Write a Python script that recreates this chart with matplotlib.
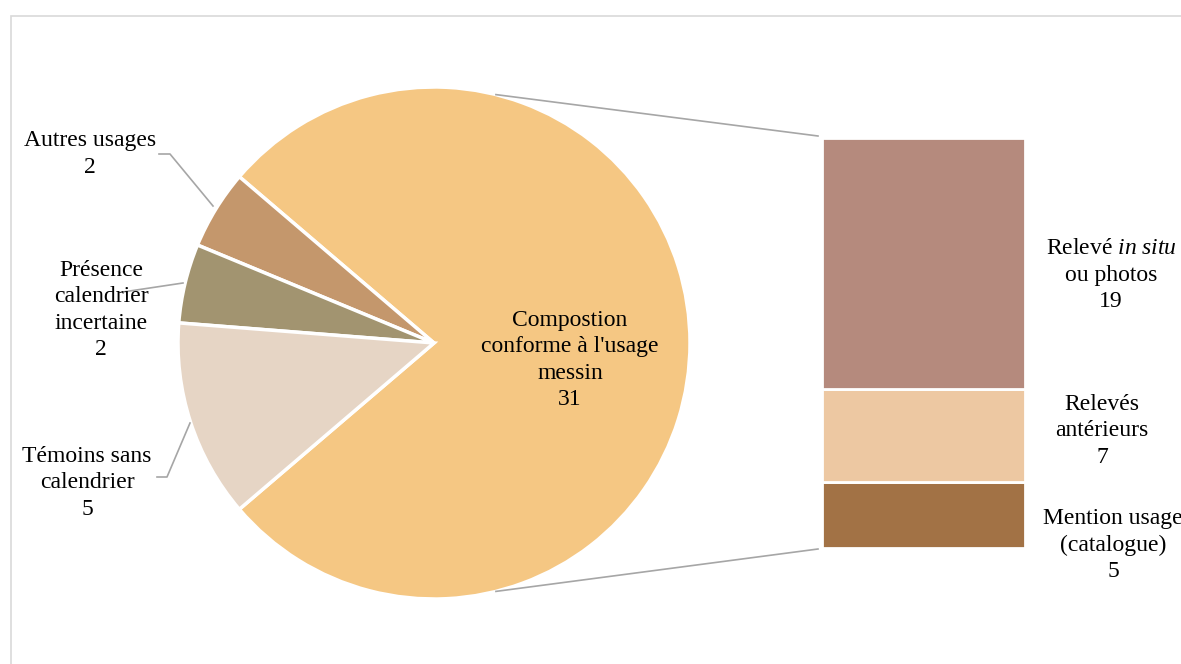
import numpy as np
import matplotlib.pyplot as plt
from matplotlib.patches import Rectangle

plt.rcParams['font.family'] = ['Liberation Serif', 'DejaVu Serif']
plt.rcParams['mathtext.fontset'] = 'custom'
plt.rcParams['mathtext.rm'] = 'Liberation Serif'
plt.rcParams['mathtext.it'] = 'Liberation Serif:italic'

# pie data
pie_labels = ["Compostion\nconforme à l'usage\nmessin", "Autres usages",
              "Présence\ncalendrier\nincertaine", "Témoins sans\ncalendrier"]
pie_values = [31, 2, 2, 5]
pie_colors = ['#F5C783', '#C4976C', '#A29470', '#E6D5C5']

# bar data (breakdown of the 31), bottom to top
bar_labels = ["Mention usage\n(catalogue)", "Relevés\nantérieurs", "Relevé $\\mathit{in\\ situ}$\nou photos"]
bar_values = [5, 7, 19]
bar_colors = ['#A27245', '#EDC8A2', '#B58A7D']

W, H = 1181, 664
fig = plt.figure(figsize=(W / 100, H / 100), dpi=100)
ax = fig.add_axes([0, 0, 1, 1])

# frame around the chart area (right and bottom edges fall outside the image)
fig.patches.append(Rectangle((10.5 / W, -0.5), 2, 1.5 - 15.5 / H, transform=fig.transFigure,
                             fill=False, edgecolor='#D9D9D9', linewidth=1.2))

cx, cy, r = 434, H - 343, 256
start = -pie_values[0] / sum(pie_values) * 180
ax.pie(pie_values, colors=pie_colors, startangle=start, counterclock=True,
       radius=r, center=(cx, cy), wedgeprops=dict(edgecolor='white', linewidth=2.5))

# stacked bar
bx, bw = 923.5, 203
bar_bottom = H - 548
scale = (548 - 138) / sum(bar_values)
bottoms = np.concatenate([[0], np.cumsum(bar_values)[:-1]])
ax.bar([bx] * len(bar_values), [v * scale for v in bar_values], width=bw,
       bottom=[bar_bottom + b * scale for b in bottoms], color=bar_colors,
       edgecolor='white', linewidth=2)

# connector lines
a = np.deg2rad(76)
ax.plot([cx + r * np.cos(a), bx - bw / 2 - 4], [cy + r * np.sin(a), H - 136], color='#A6A6A6', lw=1.2)
ax.plot([cx + r * np.cos(a), bx - bw / 2 - 4], [cy - r * np.sin(a), H - 549], color='#A6A6A6', lw=1.2)

fs = 17
ls = 1.33
def lab(x, y, s):
    ax.text(x, H - y, s, ha='center', va='center', fontsize=fs, linespacing=ls, color='black')

lab(570, 360, pie_labels[0] + '\n' + str(pie_values[0]))
lab(90, 154, pie_labels[1] + '\n' + str(pie_values[1]))
lab(101, 310, pie_labels[2] + '\n' + str(pie_values[2]))
lab(87, 483, pie_labels[3] + '\n' + str(pie_values[3]))

lab(1111, 275, bar_labels[2] + '\n' + str(bar_values[2]))
lab(1102, 431, bar_labels[1] + '\n' + str(bar_values[1]))
lab(1113, 545, bar_labels[0] + '\n' + str(bar_values[0]))

# leader lines
lc = '#A6A6A6'
ax.plot([159, 170, 213], [H - 154, H - 154, H - 206], color=lc, lw=1.2)
ax.plot([123, 183], [H - 292, H - 283], color=lc, lw=1.2)
ax.plot([157, 167, 190], [H - 477, H - 477, H - 423], color=lc, lw=1.2)

ax.set_xlim(0, W)
ax.set_ylim(0, H)
ax.axis('off')

fig.savefig('out.png', dpi=100)
